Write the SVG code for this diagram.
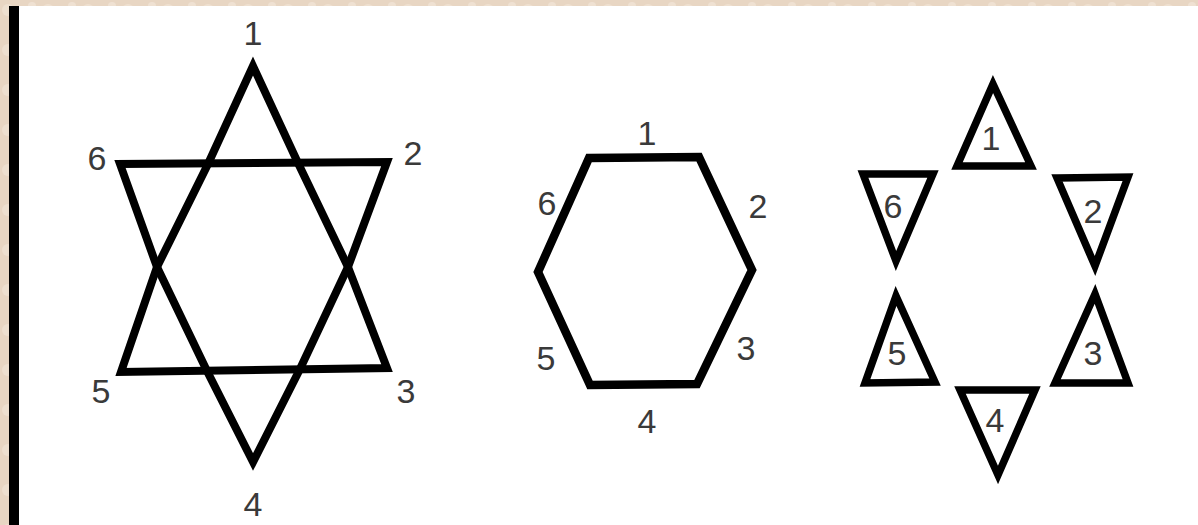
<svg xmlns="http://www.w3.org/2000/svg" width="1198" height="525" viewBox="0 0 1198 525">
  <style>
    .shape { fill: none; stroke: #000; stroke-linejoin: miter; stroke-miterlimit: 4; }
    .star { stroke-width: 8; }
    .hex { stroke-width: 8.5; }
    .tri { stroke-width: 7.5; }
    .lbl { font-family: "Liberation Sans Narrow", "Liberation Sans", Arial, sans-serif; font-size: 34px; fill: #3a3a3a; text-anchor: middle; }
  </style>
  <defs>
    <pattern id="paper" width="40" height="40" patternUnits="userSpaceOnUse">
      <rect width="40" height="40" fill="#e8d6c3"/>
      <circle cx="8" cy="10" r="6" fill="#f1e4d6" opacity="0.7"/>
      <circle cx="28" cy="26" r="8" fill="#dcc6b0" opacity="0.5"/>
      <circle cx="32" cy="6" r="4" fill="#f3e8dc" opacity="0.6"/>
    </pattern>
  </defs>
  <rect x="0" y="0" width="1198" height="525" fill="url(#paper)"/>
  <rect x="19" y="6" width="1179" height="519" fill="#ffffff"/>
  <rect x="9" y="6" width="10" height="519" fill="#000000"/>

  <g id="star">
    <polygon class="shape star" points="253,66 208,164 157,267 121,372 387,368 348,267 298,163"/>
    <polygon class="shape star" points="120,164 157,267 207,371 253,462 300,369 348,267 387,162"/>
    <text class="lbl" x="253" y="45">1</text>
    <text class="lbl" x="413" y="165">2</text>
    <text class="lbl" x="406" y="403">3</text>
    <text class="lbl" x="253" y="516">4</text>
    <text class="lbl" x="101" y="403">5</text>
    <text class="lbl" x="97" y="170">6</text>
  </g>

  <g id="hexagon">
    <polygon class="shape hex" points="589,158 699,157 752,270 697,384 590,385 538,272"/>
    <text class="lbl" x="647" y="145">1</text>
    <text class="lbl" x="758" y="218">2</text>
    <text class="lbl" x="746" y="360">3</text>
    <text class="lbl" x="647" y="433">4</text>
    <text class="lbl" x="546" y="370">5</text>
    <text class="lbl" x="547" y="215">6</text>
  </g>

  <g id="triangles">
    <g id="t1">
      <polygon class="shape tri" points="993,84 957,166 1031,166"/>
      <text class="lbl" x="991" y="150">1</text>
    </g>
    <g id="t2">
      <polygon class="shape tri" points="1057,178 1128,177 1095,266"/>
      <text class="lbl" x="1093" y="223">2</text>
    </g>
    <g id="t3">
      <polygon class="shape tri" points="1095,294 1055,383 1128,383"/>
      <text class="lbl" x="1093" y="365">3</text>
    </g>
    <g id="t4">
      <polygon class="shape tri" points="960,390 1035,390 998,475"/>
      <text class="lbl" x="995" y="432">4</text>
    </g>
    <g id="t5">
      <polygon class="shape tri" points="896,296 865,383 935,382"/>
      <text class="lbl" x="897" y="365">5</text>
    </g>
    <g id="t6">
      <polygon class="shape tri" points="863,174 933,174 896,261"/>
      <text class="lbl" x="893" y="218">6</text>
    </g>
  </g>

  <g id="connectors"></g>
</svg>
